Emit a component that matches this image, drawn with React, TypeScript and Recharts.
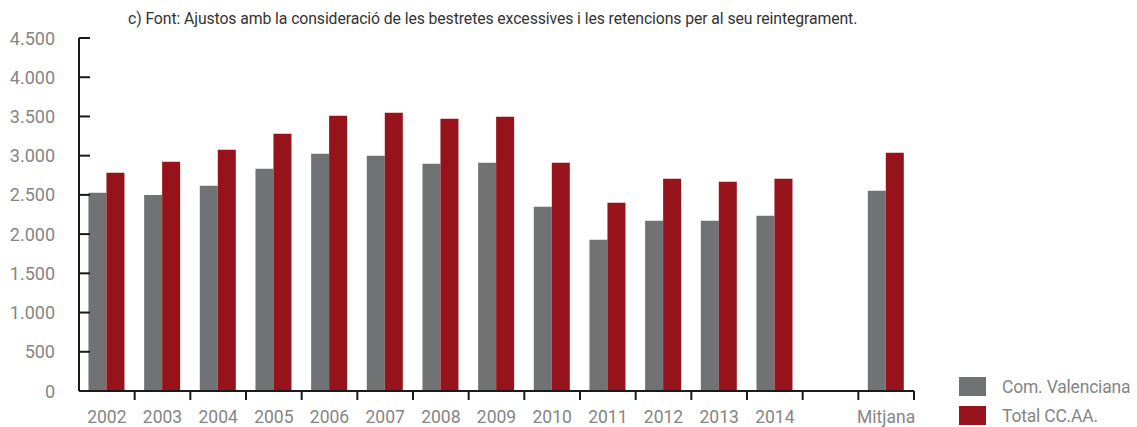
import React from "react";
import { Bar, BarChart, XAxis, YAxis } from "recharts";

// Bestretes per habitant: Com. Valenciana vs total CC.AA. (2002-2014 i mitjana)
const categories = ["2002", "2003", "2004", "2005", "2006", "2007", "2008", "2009", "2010", "2011", "2012", "2013", "2014", "", "Mitjana"];
const valenciana = [2526, 2500, 2615, 2832, 3024, 2998, 2896, 2909, 2348, 1927, 2169, 2169, 2233, null, 2552];
const totalCCAA = [2781, 2922, 3075, 3279, 3509, 3547, 3470, 3496, 2909, 2399, 2705, 2667, 2705, null, 3037];
const yTicks = [0, 500, 1000, 1500, 2000, 2500, 3000, 3500, 4000, 4500];

const seriesNames = { vc: "Com. Valenciana", total: "Total CC.AA." };
const GREY = "#717274";
const RED = "#96131b";
const AXIS = "#1a1a1a";
const LABEL = "#858585";

const W = 1137;
const H = 427;
const margin = { top: 38, right: 223, bottom: 35, left: 0 };
const yAxisWidth = 79;
const band = (W - margin.left - margin.right - yAxisWidth) / categories.length;

const data = categories.map((c, i) => ({ cat: c, vc: valenciana[i], total: totalCCAA[i] }));

const fmt = (v: number) => v.toLocaleString("de-DE");

function YTick(props: any) {
  const { x, y, payload } = props;
  return (
    <g>
      <line x1={x} x2={x + 11} y1={y} y2={y} stroke={AXIS} strokeWidth={2} />
      <text x={x - 24} y={y} textAnchor="end" dominantBaseline="central" fill={LABEL} fontSize={18} fontFamily="Roboto, sans-serif">
        {fmt(payload.value)}
      </text>
    </g>
  );
}

function XTick(props: any) {
  const { x, y, payload } = props;
  return (
    <g>
      <line x1={x + band / 2} x2={x + band / 2} y1={y} y2={y + 9} stroke={AXIS} strokeWidth={2} />
      <text x={x} y={y + 26} textAnchor="middle" dominantBaseline="central" fill={LABEL} fontSize={17.5} fontFamily="Roboto, sans-serif">
        {payload.value}
      </text>
    </g>
  );
}

function LegendBox() {
  const items = [
    { name: seriesNames.vc, color: GREY },
    { name: seriesNames.total, color: RED },
  ];
  return (
    <div style={{ position: "absolute", left: 959, top: 372, fontFamily: "Roboto, sans-serif" }}>
      {items.map((it) => (
        <div key={it.name} style={{ display: "flex", alignItems: "center", height: 29 }}>
          <span style={{ display: "inline-block", width: 27, height: 19, background: it.color, marginRight: 16 }} />
          <span style={{ fontSize: 17.5, letterSpacing: -0.2, color: LABEL, whiteSpace: "nowrap" }}>{it.name}</span>
        </div>
      ))}
    </div>
  );
}

export default function App() {
  return (
    <div style={{ position: "relative", width: W, height: H, background: "#fff" }}>
      <style>{`body{margin:0}`}</style>
      <div
        style={{
          position: "absolute",
          left: 128,
          top: 9,
          fontSize: 15.8,
          color: "#333",
          fontFamily: "Roboto, sans-serif",
          letterSpacing: -0.1,
          whiteSpace: "nowrap",
        }}
      >
        c) Font: Ajustos amb la consideració de les bestretes excessives i les retencions per al seu reintegrament.
      </div>
      <BarChart width={W} height={H} data={data} margin={margin} barCategoryGap="17%" barGap={0}>
        <XAxis
          dataKey="cat"
          height={1}
          interval={0}
          tickSize={0}
          tickMargin={0}
          tickLine={false}
          axisLine={{ stroke: AXIS, strokeWidth: 2 }}
          tick={<XTick />}
        />
        <YAxis
          width={yAxisWidth}
          domain={[0, 4500]}
          ticks={yTicks}
          interval={0}
          tickSize={0}
          tickMargin={0}
          tickLine={false}
          axisLine={{ stroke: AXIS, strokeWidth: 2 }}
          tick={<YTick />}
        />
        <Bar dataKey="vc" name={seriesNames.vc} fill={GREY} isAnimationActive={false} />
        <Bar dataKey="total" name={seriesNames.total} fill={RED} isAnimationActive={false} />
      </BarChart>
      <LegendBox />
    </div>
  );
}
